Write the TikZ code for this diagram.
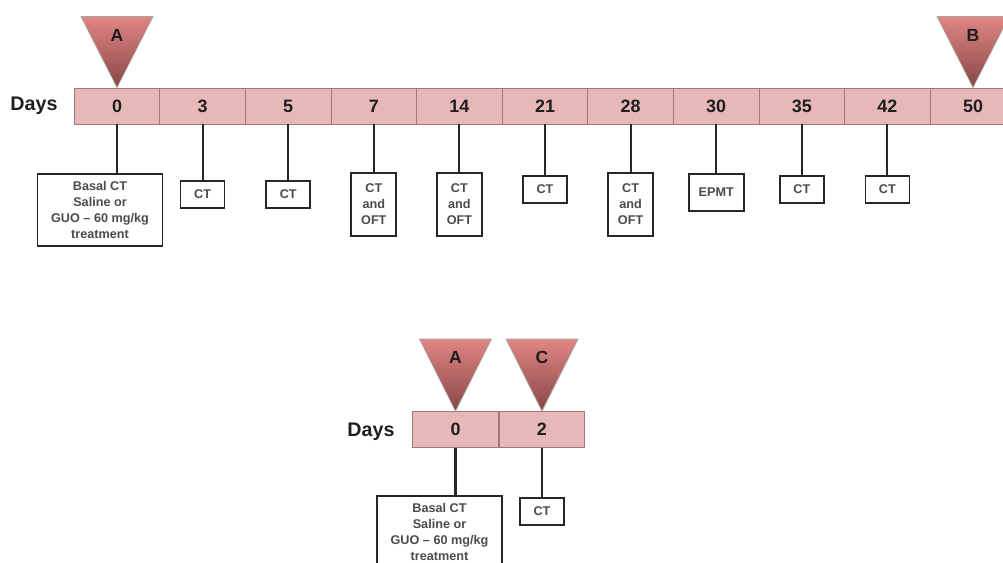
\documentclass[tikz,border=0pt]{standalone}
\usepackage{fontspec}
\setmainfont{Liberation Sans}
\usetikzlibrary{positioning, calc}
\definecolor{cellpink}{RGB}{230,184,183}
\definecolor{celledge}{RGB}{160,120,120}
\definecolor{tritop}{RGB}{224,134,132}
\definecolor{tribot}{RGB}{136,70,70}
\definecolor{txtdark}{RGB}{30,30,30}
\tikzset{
  cell/.style={rectangle, draw=celledge, fill=cellpink,
    minimum width=1.712cm, minimum height=0.72cm, inner sep=0pt,
    font=\bfseries\fontsize{10.2}{12}\selectfont, text=txtdark, line width=0.5pt},
  daylbl/.style={font=\bfseries\fontsize{11.2}{13}\selectfont, text=txtdark},
  evbox/.style={rectangle, draw=black!85, fill=white, line width=1pt,
    align=center, inner sep=1pt, anchor=north,
    font=\bfseries\fontsize{7.2}{9}\selectfont, text=txtdark!80},
  ctbox/.style={evbox, minimum width=0.88cm, minimum height=0.54cm},
  oftbox/.style={evbox, minimum width=0.9cm, minimum height=1.26cm},
  basalbox/.style={evbox, minimum width=2.5cm, minimum height=1.44cm},
  tick/.style={line width=1.2pt, draw=black!85},
  tri/.style={draw=gray!70, top color=tritop, bottom color=tribot, line width=0.4pt},
  trilbl/.style={font=\bfseries\fontsize{10}{12}\selectfont, text=txtdark}
}

\begin{document}
\begin{tikzpicture}[x=0.02cm, y=-0.02cm]
  \useasboundingbox (0,0) rectangle (1003,563);

  % Long timeline
  \node[daylbl] (days1) at (34,106) {Days};
  \foreach \d [count=\i from 0] in {0,3,5,7,14,21,28,30,35,42,50}
    \node[cell] (d\d) at ({117+85.6*\i},106) {\d};

  % Markers A and B
  \shade[tri] (d0.north) -- ++(-36,-71) -- ++(72,0) -- cycle;
  \node[trilbl] (tA1) at ($(d0.north)+(0,-52)$) {A};
  \shade[tri] (d50.north) -- ++(-36,-71) -- ++(72,0) -- cycle;
  \node[trilbl] (tB) at ($(d50.north)+(0,-52)$) {B};

  % Tests below the timeline
  \node[basalbox] (e0) at ($(d0.south |- 0,173)+(-17,0)$) {Basal CT\\Saline or\\GUO -- 60 mg/kg\\treatment};
  \foreach \d/\y in {3/180, 5/180, 21/175, 35/175, 42/175}
    \node[ctbox] (e\d) at (d\d.south |- 0,\y) {CT};
  \foreach \d in {7, 14, 28}
    \node[oftbox] (e\d) at (d\d.south |- 0,172) {CT\\and\\OFT};
  \node[evbox, minimum width=1.1cm, minimum height=0.74cm] (e30) at (d30.south |- 0,173) {EPMT};
  \draw[tick] (d0.south) -- (d0.south |- e0.north);
  \foreach \d in {3,5,7,14,21,28,30,35,42}
    \draw[tick] (d\d.south) -- (e\d.north);

  % Short timeline
  \node[daylbl] (days2) at (371,432) {Days};
  \node[cell] (s0) at (455.5,429.5) {0};
  \node[cell, right=0pt of s0] (s2) {2};

  % Markers A and C
  \shade[tri] (s0.north) -- ++(-36,-72) -- ++(72,0) -- cycle;
  \node[trilbl] (tA2) at ($(s0.north)+(0,-54)$) {A};
  \shade[tri] (s2.north) -- ++(-36,-72) -- ++(72,0) -- cycle;
  \node[trilbl] (tC) at ($(s2.north)+(0,-54)$) {C};

  \node[basalbox] (f0) at ($(s0.south |- 0,495)+(-16,0)$) {Basal CT\\Saline or\\GUO -- 60 mg/kg\\treatment};
  \node[ctbox] (f2) at (s2.south |- 0,497) {CT};
  \draw[tick] (s0.south) -- (s0.south |- f0.north);
  \draw[tick] (s2.south) -- (f2.north);
\end{tikzpicture}
\end{document}
